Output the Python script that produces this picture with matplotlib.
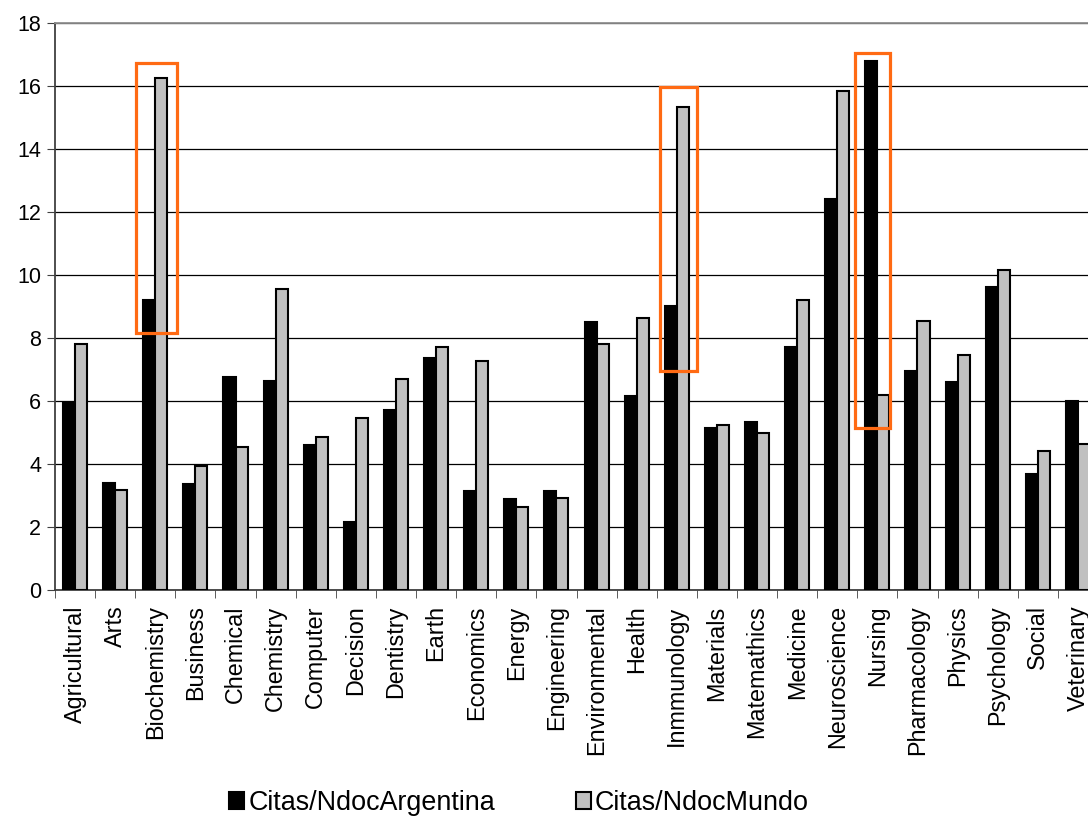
import matplotlib

matplotlib.use("Agg")
import matplotlib.pyplot as plt
import numpy as np
from matplotlib.patches import Rectangle

plt.rcParams["font.family"] = ["Liberation Sans", "DejaVu Sans"]

categories = ["Agricultural", "Arts", "Biochemistry", "Business", "Chemical",
              "Chemistry", "Computer", "Decision", "Dentistry", "Earth",
              "Economics", "Energy", "Engineering", "Environmental", "Health",
              "Inmmunology", "Materials", "Matemathics", "Medicine",
              "Neuroscience", "Nursing", "Pharmacology", "Physics",
              "Psychology", "Social", "Veterinary"]
argentina = [5.95, 3.40, 9.22, 3.36, 6.77, 6.63, 4.60, 2.17, 5.73, 7.37,
             3.13, 2.90, 3.15, 8.50, 6.15, 9.03, 5.15, 5.32, 7.72, 12.40,
             16.78, 6.95, 6.60, 9.63, 3.67, 6.00]
mundo = [7.82, 3.18, 16.25, 3.93, 4.55, 9.57, 4.85, 5.45, 6.70, 7.73,
         7.28, 2.63, 2.93, 7.82, 8.62, 15.33, 5.23, 4.98, 9.20, 15.85,
         6.18, 8.53, 7.47, 10.15, 4.42, 4.65]

# highlighted groups: (x0, x1, y0, y1) in data units
highlights = [(1.52, 2.53, 8.16, 16.74),
              (14.59, 15.50, 6.95, 15.97),
              (19.45, 20.32, 5.13, 17.06)]

fig = plt.figure(figsize=(10.88, 8.18), dpi=100)
ax = fig.add_axes([55 / 1088, 228 / 818, 1043 / 1088, 567 / 818])

x = np.arange(len(categories))
w = 0.3
ax.bar(x - w / 2, argentina, w, color="black", edgecolor="black", lw=1.5,
       label="Citas/NdocArgentina", zorder=3)
ax.bar(x + w / 2, mundo, w, color="#C0C0C0", edgecolor="black", lw=1.5,
       label="Citas/NdocMundo", zorder=3)

for x0, x1, y0, y1 in highlights:
    ax.add_patch(Rectangle((x0, y0), x1 - x0, y1 - y0, fill=False,
                           edgecolor="#FF6A13", lw=2.3, zorder=4))

ax.set_xlim(-0.5, len(categories) - 0.5)
ax.set_ylim(0, 18)
ax.set_yticks(np.arange(0, 19, 2))
ax.tick_params(axis="y", labelsize=15.5, length=6, color="#404040", pad=4)
ax.set_xticks(x)
ax.set_xticklabels(categories, rotation=90, fontsize=16.8)
ax.tick_params(axis="x", length=0, pad=11)
ax.set_xticks(np.arange(-0.5, len(categories)), minor=True)
ax.tick_params(axis="x", which="minor", length=6, color="#404040")
ax.grid(axis="y", color="black", lw=0.9, zorder=0)
ax.set_axisbelow(True)
for s in ["left", "bottom"]:
    ax.spines[s].set_color("#404040")
    ax.spines[s].set_linewidth(1.3)
ax.spines["top"].set_color("#909090")
ax.spines["top"].set_linewidth(1.3)
ax.spines["right"].set_visible(False)

fig.legend(loc="center", bbox_to_anchor=(519 / 1088, 1 - 803 / 818), ncol=2,
           frameon=False, fontsize=19.4, handlelength=0.55, handleheight=0.55,
           handletextpad=0.15, columnspacing=3.0)

fig.savefig("out.png", dpi=100)
